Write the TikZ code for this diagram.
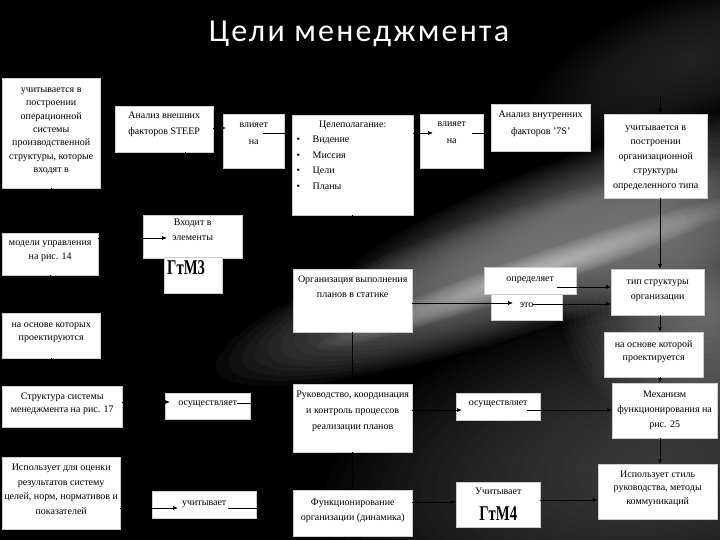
\documentclass[tikz,border=0pt]{standalone}
\usepackage{fontspec}
\setmainfont{Liberation Serif}
\newfontfamily\titlefont{Carlito}
\usetikzlibrary{arrows.meta,calc}
\newcommand\bt[5]{\parbox[t][#2pt][t]{#1pt}{\fontsize{10}{#4}\selectfont\centering\vspace*{#3pt}\strut #5}}
\newcommand\gtm[1]{{\fontsize{21}{21}\selectfont\bfseries\scalebox{.7}[1]{#1}}}
\newcommand\blob[7]{%
  \foreach \k in {1,...,24}{\fill[#6, opacity=#7, rotate around={#5:(#1,#2)}] (#1,#2) ellipse [x radius=#3*\k/24, y radius=#4*\k/24];}}
\tikzset{
  box/.style={draw=gray!40, fill=white, inner sep=0pt, line width=0.4pt, anchor=north west},
  arr/.style={-{Latex[length=5pt,width=4pt]}, black, line width=0.7pt},
  ln/.style={black, line width=0.7pt}
}
\begin{document}
\begin{tikzpicture}[x=1pt,y=-1pt]
\useasboundingbox (0,0) rectangle (720,540);
\fill[black] (0,0) rectangle (720,540);
% background streaks
\blob{660}{460}{340}{160}{10}{gray!70!black}{.05}
\blob{690}{60}{170}{65}{20}{gray!55!black}{.04}
\blob{700}{300}{140}{130}{0}{gray!60}{.04}
\blob{580}{205}{260}{50}{20}{gray!60}{.03}
\blob{530}{268}{330}{62}{18}{gray!75}{.055}
\blob{535}{272}{230}{18}{19}{white}{.03}

\node[text=white, font=\titlefont\fontsize{32}{34}\selectfont\addfontfeature{LetterSpace=7}, anchor=base] (title) at (359,42) {Цели менеджмента};

% boxes
\node[box] (b1) at (2,78) {\bt{98}{110}{4.8}{13.4}{учитывается в\\построении\\операционной\\системы\\производственной\\структуры, которые\\входят в}};
\node[box] (steep) at (115,106) {\bt{98}{46}{1}{16}{Анализ внешних\\факторов STEEP}};
\node[box] (vl1) at (223,114) {\bt{61}{54}{1.3}{17}{влияет\\на}};
\node[box] (goal) at (292,115) {\bt{121}{100}{1.35}{15.5}{Целеполагание:\par\raggedright
  \hspace*{4.5pt}\makebox[16pt][l]{•}Видение\\
  \hspace*{4.5pt}\makebox[16pt][l]{•}Миссия\\
  \hspace*{4.5pt}\makebox[16pt][l]{•}Цели\\
  \hspace*{4.5pt}\makebox[16pt][l]{•}Планы}};
\node[box] (vl2) at (420,114) {\bt{63}{54}{0}{17}{влияет\\на}};
\node[box] (int) at (491,104) {\bt{99}{47}{1.3}{17}{Анализ внутренних\\факторов '7S'}};
\node[box] (b7) at (604,114) {\bt{103}{84}{6}{14.5}{учитывается в\\построении\\организационной\\структуры\\определенного типа}};
\node[box] (vx) at (143,215) {\bt{99}{43}{0}{15}{Входит в\\элементы}};
\node[box] (gtm3) at (164,257) {\parbox[t][36pt][t]{58pt}{\vspace*{3pt}\hspace*{3pt}\gtm{ГтМ3}}};
\node[box] (b10) at (2,233) {\bt{96}{42}{2.4}{14}{модели управления\\на рис. 14}};
\node[box] (org) at (293,269) {\bt{119}{63}{2.7}{15}{Организация выполнения\\планов в статике}};
\node[box] (opr) at (484,267) {\bt{92}{27}{4.4}{14}{определяет}};
\node[box] (eto) at (491,294) {\bt{71}{26}{3.4}{14}{это}};
\node[box] (tip) at (611,269) {\bt{93}{46}{4.7}{15}{тип структуры\\организации}};
\node[box] (b15) at (2,313) {\bt{98}{45}{5.1}{13}{на основе которых\\проектируются}};
\node[box] (b16) at (604,332) {\bt{99}{45}{6.1}{13}{на основе которой\\проектируется}};
\node[box] (b17) at (2,386) {\bt{120}{41}{4.1}{13}{Структура системы\\менеджмента на рис. 17}};
\node[box] (osl) at (165,393) {\bt{85}{26}{2.4}{14}{осуществляет}};
\node[box] (ruk) at (293,384) {\bt{119}{68}{2}{16}{Руководство, координация\\и контроль процессов\\реализации планов}};
\node[box] (osr) at (456,393) {\bt{84}{27}{2.4}{14}{осуществляет}};
\node[box] (mech) at (612,383) {\bt{105}{55}{3.7}{15}{Механизм\\функционирования на\\рис. 25}};
\node[box] (b22) at (2,457) {\bt{118}{72}{2.9}{14.7}{Использует для оценки\\результатов систему\\целей, норм, нормативов и\\показателей}};
\node[box] (uch) at (152,491) {\bt{104}{27}{4.4}{14}{учитывает}};
\node[box] (func) at (293,490) {\bt{119}{46}{4.7}{15}{Функционирование\\организации (динамика)}};
\node[box] (uch4) at (456,482) {\bt{84}{45}{2.4}{14}{Учитывает\\[7pt]\gtm{ГтМ4}}};
\node[box] (stil) at (598,464) {\bt{119}{55}{3.75}{13.5}{Использует стиль\\руководства, методы\\коммуникаций}};

% connectors
\coordinate (t7) at (660,96);
\draw[arr] ($(steep.north east)+(0,22)$) -- ($(vl1.north west)+(3,14)$);
\draw[ln] ($(vl1.north west)+(40,19)$) -- ($(goal.north west)+(0,18)$);
\draw[arr] ($(goal.north east)+(0,18)$) -- ($(vl2.north west)+(13,19)$);
\draw[ln] ($(vl2.north west)+(52,19)$) -- ($(int.north west)+(0,29)$);
\draw[arr] (goal.south) -- (org.north);
\draw[ln] (org.south) -- (ruk.north);
\draw[ln] (ruk.south) -- (func.north);
\draw[ln] (b1.south) -- (b1.south |- b10.north);
\draw[ln] (b10.south) -- (b10.south |- b15.north);
\draw[ln] (b15.south) -- (b15.south |- b17.north);
\draw[arr] ($(b10.north east)+(0,5)$) -- ($(vx.north west)+(24,23)$);
\draw[ln] ($(steep.south west)+(70,0)$) -- ($(vx.north west)+(42,0)$);
\draw[arr] (t7) -- ($(b7.north west)+(56,0)$);
\draw[arr] ($(b7.south west)+(56,0)$) -- ($(tip.north west)+(49,0)$);
\draw[arr] ($(tip.south west)+(49,0)$) -- ($(b16.north west)+(56,0)$);
\draw[arr] ($(b16.south west)+(56,0)$) -- ($(mech.north west)+(48,0)$);
\draw[arr] ($(mech.south west)+(48,0)$) -- ($(stil.north west)+(62,0)$);
\draw[arr] ($(opr.north west)+(73,20)$) -- ($(tip.north west)+(0,18)$);
\draw[arr] ($(org.north east)+(0,34)$) -- ($(eto.north west)+(22,9)$);
\draw[arr] ($(eto.north west)+(42,10)$) -- ($(tip.north west)+(0,35)$);
\draw[arr] ($(b17.north east)+(0,16)$) -- ($(osl.north west)+(5,9)$);
\draw[ln] ($(osl.north west)+(72,10)$) -- ($(ruk.north west)+(0,19)$);
\draw[arr] ($(ruk.north east)+(0,26)$) -- ($(osr.north west)+(6,17)$);
\draw[arr] ($(osr.north west)+(71,17)$) -- ($(mech.north west)+(0,27)$);
\draw[arr] ($(b22.north east)+(0,51)$) -- ($(uch.north west)+(26,17)$);
\draw[ln] ($(uch.north west)+(76,17)$) -- ($(func.north west)+(0,18)$);
\draw[arr] ($(func.north east)+(0,12)$) -- ($(uch4.north west)+(0,20)$);
\draw[arr] ($(uch4.north east)+(0,18)$) -- ($(stil.north west)+(0,36)$);
\end{tikzpicture}
\end{document}
